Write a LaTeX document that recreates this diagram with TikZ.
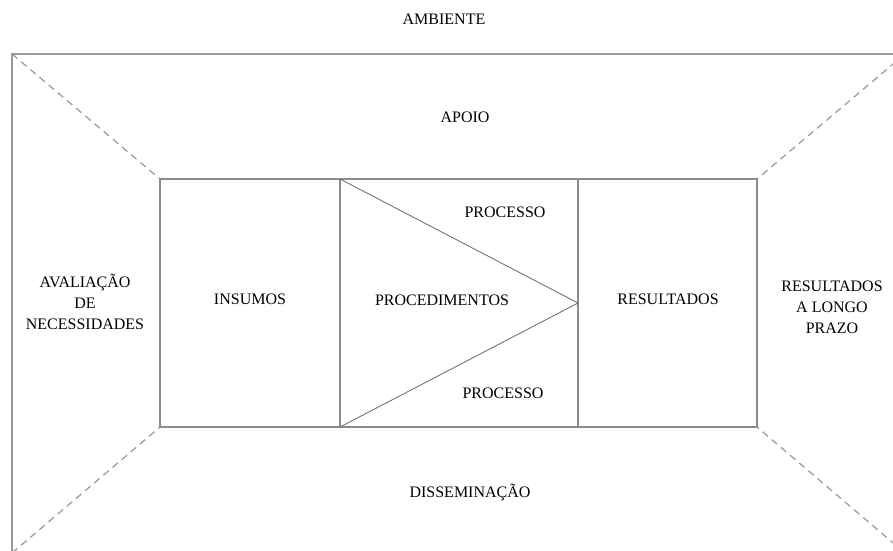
\documentclass[tikz,border=0pt]{standalone}
\usepackage{fontspec}
\setmainfont{Liberation Serif}
\begin{document}
\begin{tikzpicture}[x=1pt,y=-1pt,
  frame/.style={draw=black!40,line width=1.8pt},
  box/.style={draw=black!45,line width=1.4pt},
  wedge/.style={draw=black!55,line width=0.9pt},
  perspective/.style={draw=black!38,line width=1.3pt,dash pattern=on 7pt off 5pt},
  lbl/.style={font=\fontsize{16}{21}\selectfont,align=center,inner sep=0pt}]
\useasboundingbox (0,0) rectangle (893,550);
\clip (0,0) rectangle (893,550);
% outer frame corners
\coordinate (o1) at (12,54);
\coordinate (o2) at (905,54);
\coordinate (o3) at (905,553);
\coordinate (o4) at (12,553);
% inner box corners
\coordinate (i1) at (160,179);
\coordinate (i2) at (757,179);
\coordinate (i3) at (757,427);
\coordinate (i4) at (160,427);
% column dividers and wedge apex
\coordinate (a1) at (340,179);
\coordinate (a2) at (340,427);
\coordinate (b1) at (578,179);
\coordinate (b2) at (578,427);
\coordinate (tip) at (578,303);
% frame and perspective lines
\draw[frame] (o1) rectangle (o3);
\draw[perspective] (o1) -- (i1);
\draw[perspective] (o2) -- (i2);
\draw[perspective] (o3) -- (i3);
\draw[perspective] (o4) -- (i4);
% central box
\draw[box] (i1) rectangle (i3);
\draw[box] (a1) -- (a2);
\draw[box] (b1) -- (b2);
\draw[wedge] (a1) -- (tip) -- (a2);
% labels
\node[lbl] (amb) at (444,19) {AMBIENTE};
\node[lbl] (apo) at (465,117) {APOIO};
\node[lbl] (ava) at (85,302) {AVALIAÇÃO\\DE\\NECESSIDADES};
\node[lbl] (ins) at (250,299) {INSUMOS};
\node[lbl] (pro) at (442,300) {PROCEDIMENTOS};
\node[lbl] (pc1) at (505,212) {PROCESSO};
\node[lbl] (pc2) at (503,393) {PROCESSO};
\node[lbl] (res) at (668,299) {RESULTADOS};
\node[lbl] (rlp) at (832,307) {RESULTADOS\\A LONGO\\PRAZO};
\node[lbl] (dis) at (470,492) {DISSEMINAÇÃO};
\end{tikzpicture}
\end{document}
